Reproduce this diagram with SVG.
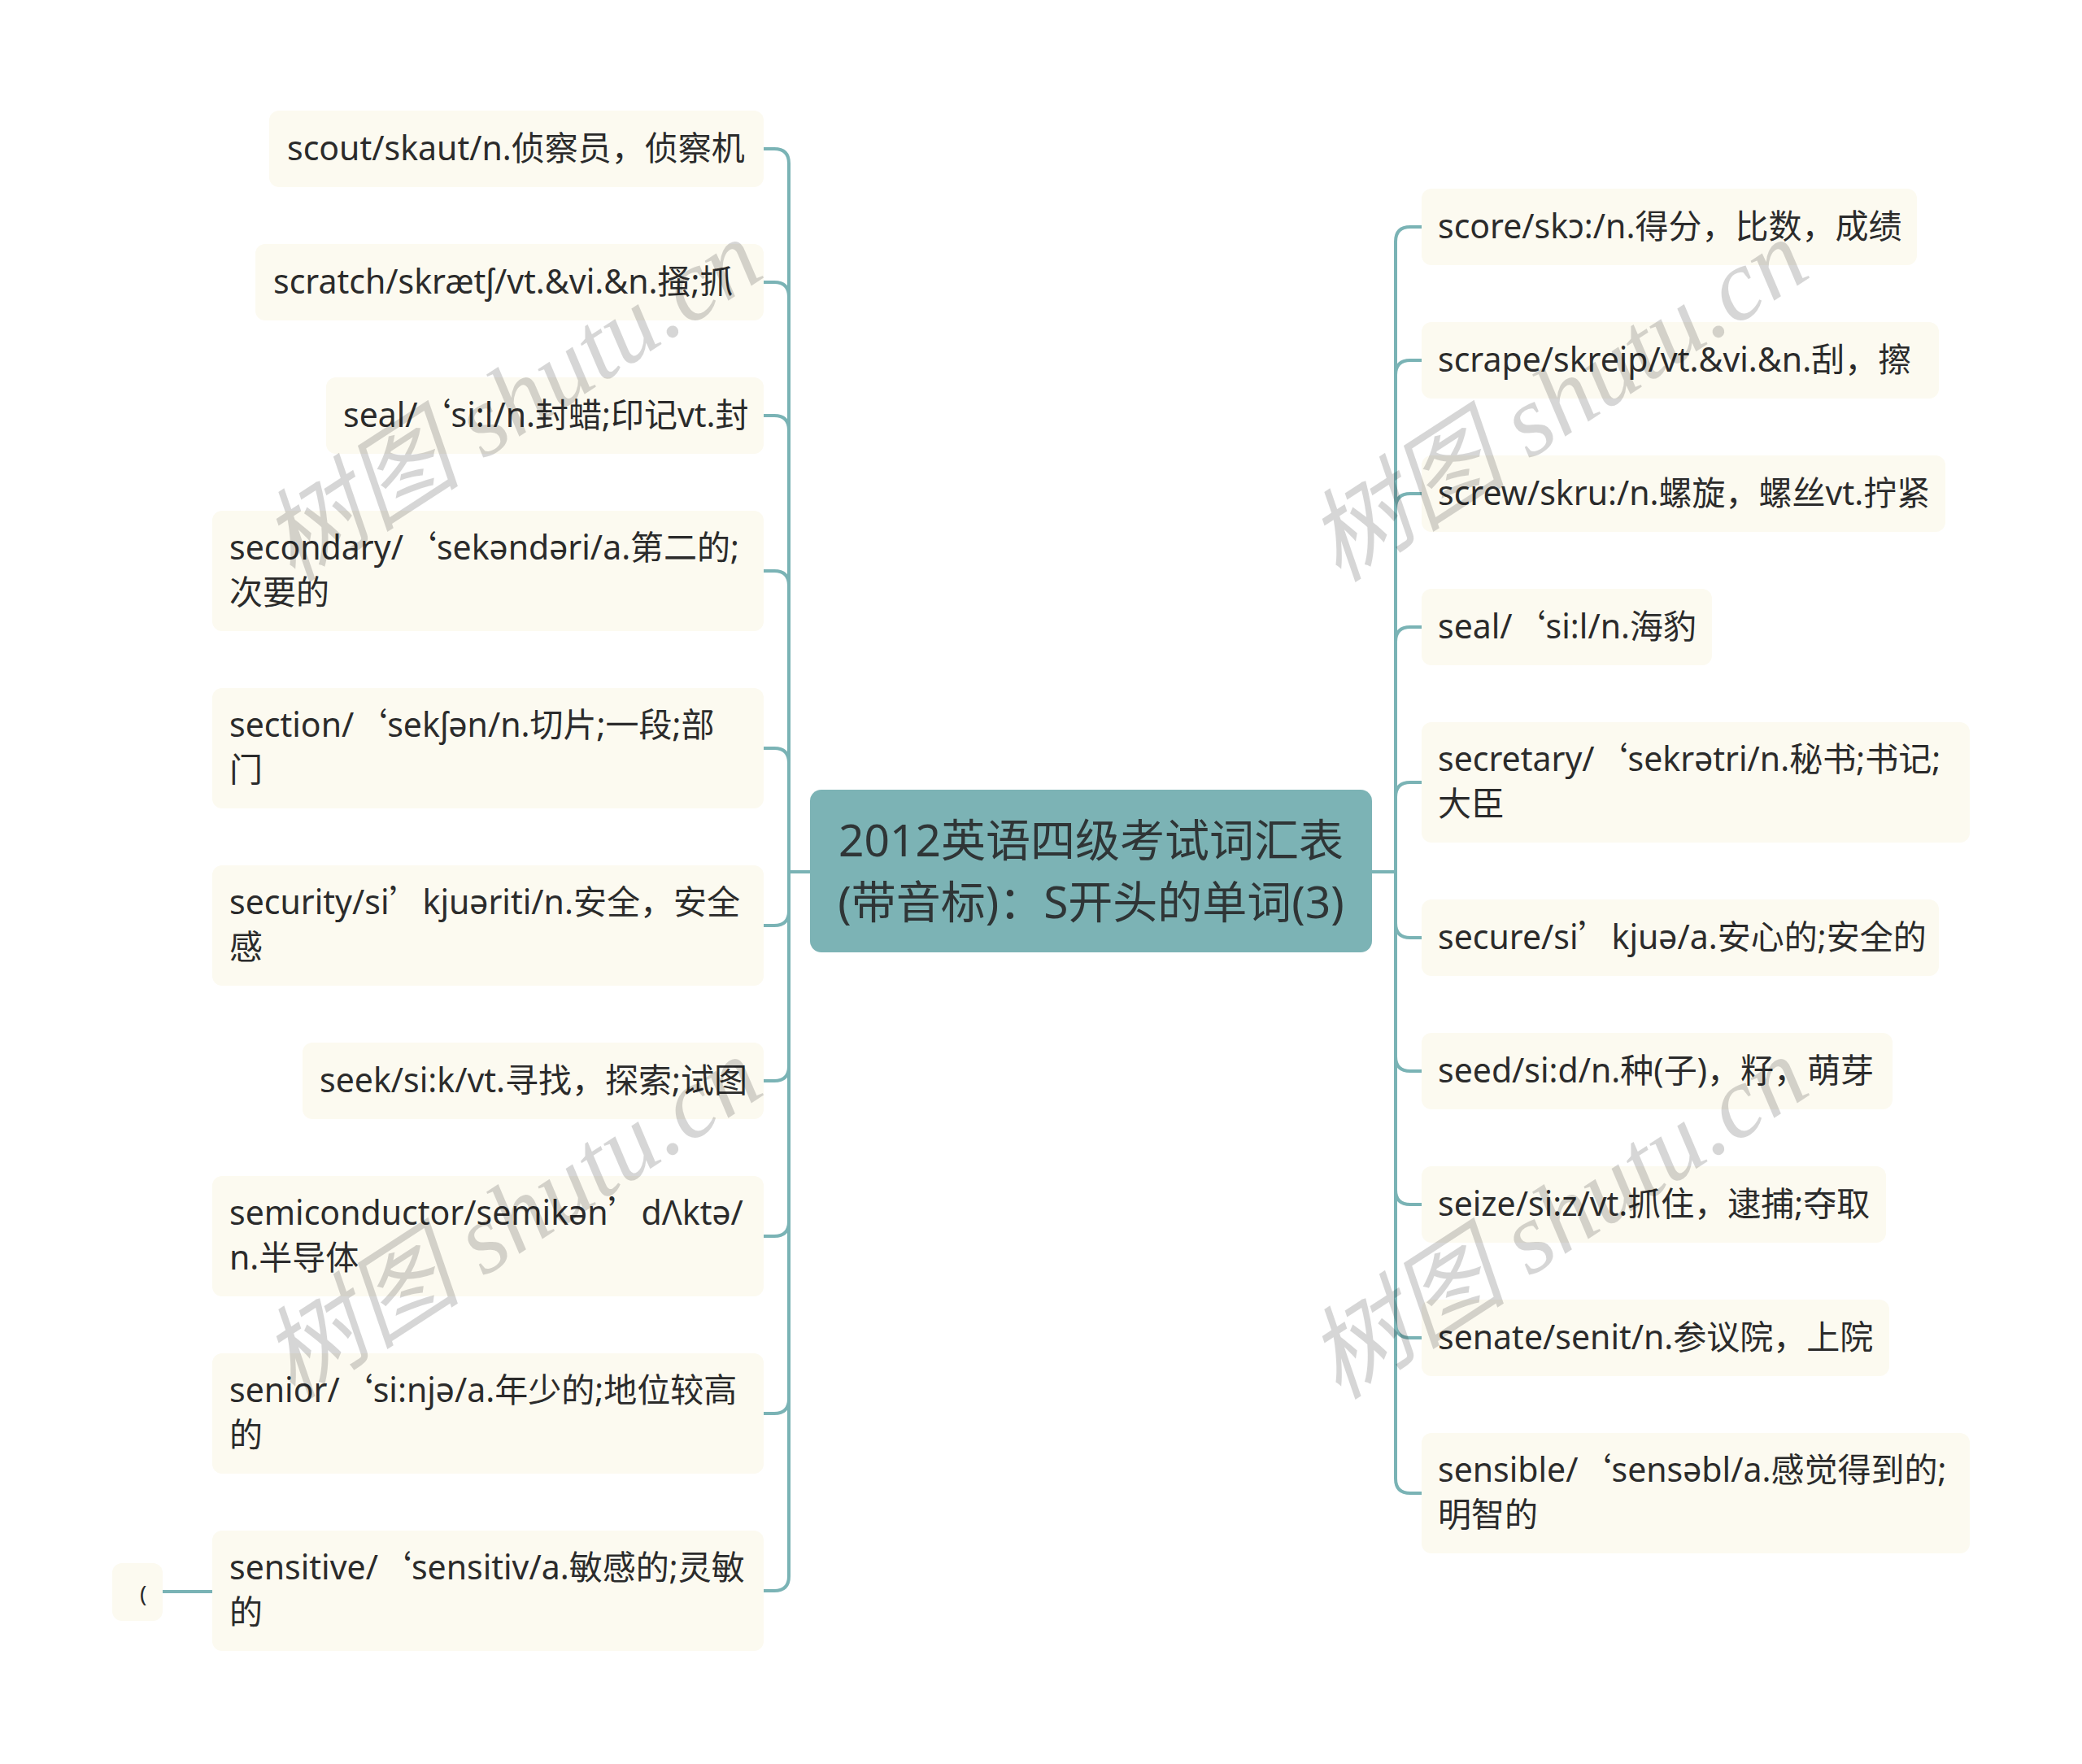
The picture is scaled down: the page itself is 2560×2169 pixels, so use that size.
<svg xmlns="http://www.w3.org/2000/svg" width="2560" height="2169" viewBox="0 0 2560 2169">
<style>
.bg{fill:#ffffff}
.node rect{fill:#FCFAF0}
.t{font-family:"Noto Sans","Noto Sans CJK SC",sans-serif;font-size:41px;fill:#2b2b2b}
.q{font-family:"Noto Sans CJK SC",sans-serif}
.root rect{fill:#7CB3B5}
.rt{font-family:"Noto Sans","Noto Sans CJK SC",sans-serif;font-size:55px;fill:#2f3536;text-anchor:middle}
.links path{fill:none;stroke:#7AB3B5;stroke-width:4;stroke-linecap:round}
.wm{font-family:"Liberation Serif","Noto Sans CJK SC",serif;font-style:italic;font-size:124px;fill:#000;fill-opacity:0.16;text-anchor:middle}
</style>
<rect class="bg" x="0" y="0" width="2560" height="2169"/>

<g class="links">
<path d="M996 1072H970V201Q970 183 952 183H939"/>
<path d="M996 1072H970V365Q970 347 952 347H939"/>
<path d="M996 1072H970V529Q970 511 952 511H939"/>
<path d="M996 1072H970V720Q970 702 952 702H939"/>
<path d="M996 1072H970V938Q970 920 952 920H939"/>
<path d="M996 1072H970V1120Q970 1138 952 1138H939"/>
<path d="M996 1072H970V1311Q970 1329 952 1329H939"/>
<path d="M996 1072H970V1502Q970 1520 952 1520H939"/>
<path d="M996 1072H970V1720Q970 1738 952 1738H939"/>
<path d="M996 1072H970V1938Q970 1956 952 1956H939"/>
<path d="M261 1957H200"/>
<path d="M1687 1072H1716V297Q1716 279 1734 279H1748"/>
<path d="M1687 1072H1716V461Q1716 443 1734 443H1748"/>
<path d="M1687 1072H1716V625Q1716 607 1734 607H1748"/>
<path d="M1687 1072H1716V789Q1716 771 1734 771H1748"/>
<path d="M1687 1072H1716V980Q1716 962 1734 962H1748"/>
<path d="M1687 1072H1716V1135Q1716 1153 1734 1153H1748"/>
<path d="M1687 1072H1716V1299Q1716 1317 1734 1317H1748"/>
<path d="M1687 1072H1716V1463Q1716 1481 1734 1481H1748"/>
<path d="M1687 1072H1716V1627Q1716 1645 1734 1645H1748"/>
<path d="M1687 1072H1716V1818Q1716 1836 1734 1836H1748"/>
</g>

<g id="root" class="root">
<rect x="996" y="971" width="691" height="200" rx="14"/>
<text class="rt" x="1341.5" y="1053">2012英语四级考试词汇表</text>
<text class="rt" x="1341.5" y="1129">(带音标)：S开头的单词(3)</text>
</g>

<g id="n-scout" class="node"><rect x="331" y="136" width="608" height="94" rx="12"/>
<text class="t" x="353" y="197">scout/skaut/n.侦察员，侦察机</text></g>
<g id="n-scratch" class="node"><rect x="314" y="300" width="625" height="94" rx="12"/>
<text class="t" x="336" y="361">scratch/skrætʃ/vt.&amp;vi.&amp;n.搔;抓</text></g>
<g id="n-seal1" class="node"><rect x="401" y="464" width="538" height="94" rx="12"/>
<text class="t" x="422" y="525">seal/<tspan class="q">‘</tspan>si:l/n.封蜡;印记vt.封</text></g>
<g id="n-secondary" class="node"><rect x="261" y="628" width="678" height="148" rx="12"/>
<text class="t" x="282" y="688">secondary/<tspan class="q">‘</tspan>sekəndəri/a.第二的;</text>
<text class="t" x="282" y="743">次要的</text></g>
<g id="n-section" class="node"><rect x="261" y="846" width="678" height="148" rx="12"/>
<text class="t" x="282" y="906">section/<tspan class="q">‘</tspan>sekʃən/n.切片;一段;部</text>
<text class="t" x="282" y="961">门</text></g>
<g id="n-security" class="node"><rect x="261" y="1064" width="678" height="148" rx="12"/>
<text class="t" x="282" y="1124">security/si<tspan class="q">’</tspan>kjuəriti/n.安全，安全</text>
<text class="t" x="282" y="1179">感</text></g>
<g id="n-seek" class="node"><rect x="372" y="1282" width="567" height="94" rx="12"/>
<text class="t" x="393" y="1343">seek/si:k/vt.寻找，探索;试图</text></g>
<g id="n-semiconductor" class="node"><rect x="261" y="1446" width="678" height="148" rx="12"/>
<text class="t" x="282" y="1506">semiconductor/semikən<tspan class="q">’</tspan>dΛktə/</text>
<text class="t" x="282" y="1561">n.半导体</text></g>
<g id="n-senior" class="node"><rect x="261" y="1664" width="678" height="148" rx="12"/>
<text class="t" x="282" y="1724">senior/<tspan class="q">‘</tspan>si:njə/a.年少的;地位较高</text>
<text class="t" x="282" y="1779">的</text></g>
<g id="n-sensitive" class="node"><rect x="261" y="1882" width="678" height="148" rx="12"/>
<text class="t" x="282" y="1942">sensitive/<tspan class="q">‘</tspan>sensitiv/a.敏感的;灵敏</text>
<text class="t" x="282" y="1997">的</text></g>
<g id="n-paren" class="node"><rect x="138" y="1922" width="62" height="71" rx="12"/>
<text class="t" x="172" y="1970" style="font-size:28px">(</text></g>

<g id="n-score" class="node"><rect x="1748" y="232" width="609" height="94" rx="12"/>
<text class="t" x="1768" y="293">score/skɔ:/n.得分，比数，成绩</text></g>
<g id="n-scrape" class="node"><rect x="1748" y="396" width="636" height="94" rx="12"/>
<text class="t" x="1768" y="457">scrape/skreip/vt.&amp;vi.&amp;n.刮，擦</text></g>
<g id="n-screw" class="node"><rect x="1748" y="560" width="644" height="94" rx="12"/>
<text class="t" x="1768" y="621">screw/skru:/n.螺旋，螺丝vt.拧紧</text></g>
<g id="n-seal2" class="node"><rect x="1748" y="724" width="357" height="94" rx="12"/>
<text class="t" x="1768" y="785">seal/<tspan class="q">‘</tspan>si:l/n.海豹</text></g>
<g id="n-secretary" class="node"><rect x="1748" y="888" width="674" height="148" rx="12"/>
<text class="t" x="1768" y="948">secretary/<tspan class="q">‘</tspan>sekrətri/n.秘书;书记;</text>
<text class="t" x="1768" y="1003">大臣</text></g>
<g id="n-secure" class="node"><rect x="1748" y="1106" width="636" height="94" rx="12"/>
<text class="t" x="1768" y="1167">secure/si<tspan class="q">’</tspan>kjuə/a.安心的;安全的</text></g>
<g id="n-seed" class="node"><rect x="1748" y="1270" width="579" height="94" rx="12"/>
<text class="t" x="1768" y="1331">seed/si:d/n.种(子)，籽，萌芽</text></g>
<g id="n-seize" class="node"><rect x="1748" y="1434" width="571" height="94" rx="12"/>
<text class="t" x="1768" y="1495">seize/si:z/vt.抓住，逮捕;夺取</text></g>
<g id="n-senate" class="node"><rect x="1748" y="1598" width="575" height="94" rx="12"/>
<text class="t" x="1768" y="1659">senate/senit/n.参议院，上院</text></g>
<g id="n-sensible" class="node"><rect x="1748" y="1762" width="674" height="148" rx="12"/>
<text class="t" x="1768" y="1822">sensible/<tspan class="q">‘</tspan>sensəbl/a.感觉得到的;</text>
<text class="t" x="1768" y="1877">明智的</text></g>

<g id="watermarks">
<text class="wm" transform="translate(652 528) rotate(-33)">树图 shutu.cn</text>
<text class="wm" transform="translate(652 1533) rotate(-33)">树图 shutu.cn</text>
<text class="wm" transform="translate(1938 528) rotate(-33)">树图 shutu.cn</text>
<text class="wm" transform="translate(1938 1533) rotate(-33)">树图 shutu.cn</text>
</g>
</svg>
